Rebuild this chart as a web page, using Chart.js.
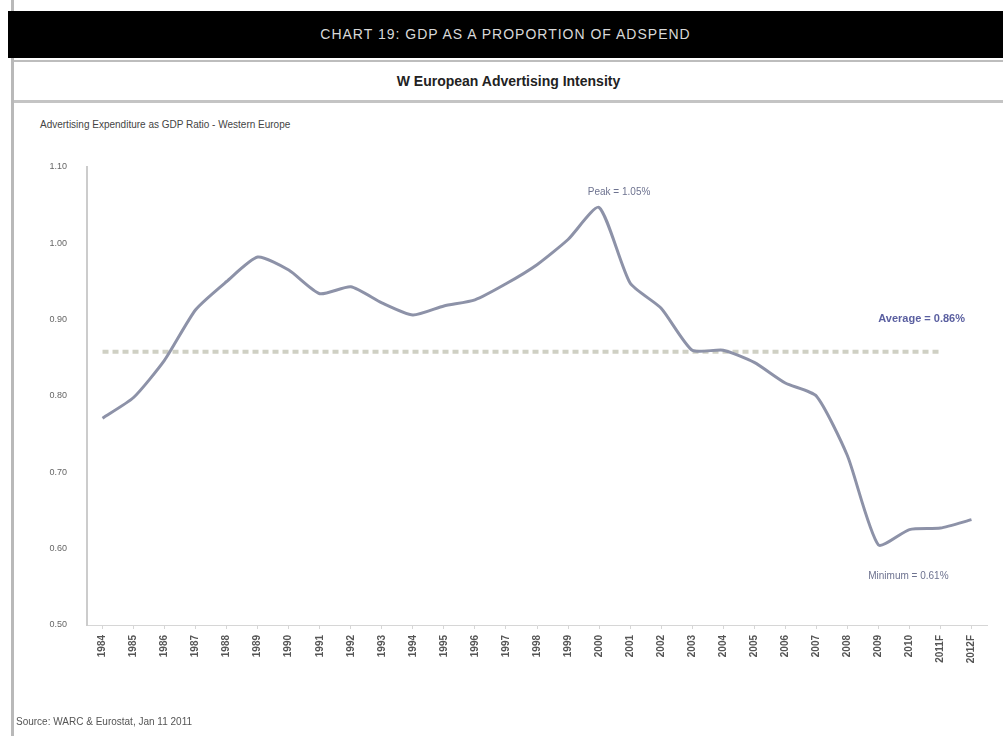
<!DOCTYPE html>
<html lang="en">
<head>
<meta charset="UTF-8">
<title>W European Advertising Intensity</title>
<script src="https://cdn.jsdelivr.net/npm/chart.js"></script>
<style>
    body { margin: 0; background: #fff; font-family: "Liberation Sans", Arial, sans-serif; }
    .moldura { position: relative; width: 1003px; height: 736px; overflow: hidden; }
    .borda-esq { position: absolute; left: 11px; top: 0; width: 3px; height: 736px; background: #b9b9b9; }
    .cabecalho { position: absolute; left: 8px; top: 11px; width: 995px; height: 47px; background: #000;
        color: #d8d8d8; font-size: 14px; letter-spacing: 1px; text-align: center; line-height: 47px; }
    .subtitulo { position: absolute; left: 14px; top: 60px; width: 989px; height: 38px; border-top: 2px solid #bdbdbd;
        border-bottom: 3px solid #c4c4c4; text-align: center; line-height: 38px; font-weight: bold; font-size: 14px; color: #222; }
    .eixo-titulo { position: absolute; left: 40px; top: 119px; font-size: 10px; color: #444; }
    .fonte { position: absolute; left: 16px; top: 716px; font-size: 10px; color: #555; }
    canvas { position: absolute; left: 0; top: 0; }
</style>
</head>
<body>
<div class="moldura">
    <div class="borda-esq"></div>
    <div class="cabecalho">CHART 19: GDP AS A PROPORTION OF ADSPEND</div>
    <div class="subtitulo">W European Advertising Intensity</div>
    <div class="eixo-titulo">Advertising Expenditure as GDP Ratio - Western Europe</div>
    <canvas id="grafico" width="1003" height="736"></canvas>
    <div class="fonte">Source: WARC &amp; Eurostat, Jan 11 2011</div>
</div>
<script>
// anos (categorias)
const anos = ['1984','1985','1986','1987','1988','1989','1990','1991','1992','1993','1994','1995','1996','1997',
    '1998','1999','2000','2001','2002','2003','2004','2005','2006','2007','2008','2009','2010','2011F','2012F'];

// adspend / PIB (%)
const intensidade = [0.771,0.798,0.847,0.913,0.950,0.982,0.965,0.934,0.943,0.922,0.906,0.918,0.926,0.947,
    0.972,1.005,1.047,0.948,0.915,0.860,0.860,0.844,0.817,0.800,0.722,0.605,0.625,0.627,0.638];

const ticksY = [0.50, 0.60, 0.70, 0.80, 0.90, 1.00, 1.10];

const media = 0.858;
const rotuloPico = 'Peak = 1.05%';
const rotuloMedia = 'Average = 0.86%';
const rotuloMinimo = 'Minimum = 0.61%';

// linha da media + textos
const pluginAnotacoes = {
    id: 'anotacoes',
    beforeDatasetsDraw(chart) {
        const ctx = chart.ctx;
        const x = chart.scales.x;
        const y = chart.scales.y;
        const yMedia = y.getPixelForValue(media);
        ctx.save();
        ctx.strokeStyle = '#cfd0c4';
        ctx.lineWidth = 4;
        ctx.setLineDash([6, 4]);
        ctx.beginPath();
        ctx.moveTo(x.getPixelForValue(0), yMedia);
        ctx.lineTo(x.getPixelForValue(anos.length - 2), yMedia);
        ctx.stroke();
        ctx.restore();
    },
    afterDatasetsDraw(chart) {
        const ctx = chart.ctx;
        const x = chart.scales.x;
        const y = chart.scales.y;
        const iPico = intensidade.indexOf(Math.max(...intensidade));
        const iMin = intensidade.indexOf(Math.min(...intensidade));
        ctx.save();
        ctx.font = '10px "Liberation Sans", Arial, sans-serif';
        ctx.fillStyle = '#6e7390';
        ctx.textAlign = 'center';
        ctx.fillText(rotuloPico, x.getPixelForValue(iPico) + 20, y.getPixelForValue(intensidade[iPico]) - 12);
        ctx.fillText(rotuloMinimo, x.getPixelForValue(iMin) + 30, y.getPixelForValue(intensidade[iMin]) + 34);
        ctx.font = 'bold 11px "Liberation Sans", Arial, sans-serif';
        ctx.fillStyle = '#5a5fa0';
        ctx.textAlign = 'right';
        ctx.fillText(rotuloMedia, x.right - 22, y.getPixelForValue(media) - 30);
        ctx.restore();
    }
};

new Chart(document.getElementById('grafico'), {
    type: 'line',
    data: {
        labels: anos,
        datasets: [{
            label: 'Adspend / GDP',
            data: intensidade,
            borderColor: '#8d92a8',
            borderWidth: 3,
            pointRadius: 0,
            tension: 0.2,
            fill: false
        }]
    },
    options: {
        responsive: false,
        animation: false,
        layout: { padding: { left: 20, top: 167, right: 16, bottom: 0 } },
        plugins: { legend: { display: false }, tooltip: { enabled: false } },
        scales: {
            x: {
                offset: true,
                afterFit(scale) { scale.height = 111; },
                grid: { display: true, drawOnChartArea: false, tickLength: 4, color: '#d6d6d6' },
                border: { display: true, color: '#d6d6d6' },
                ticks: {
                    minRotation: 90, maxRotation: 90, autoSkip: false, padding: 6,
                    color: '#555', font: { size: 10, weight: 'bold', family: '"Liberation Sans", Arial, sans-serif' }
                }
            },
            y: {
                min: 0.50,
                max: 1.10,
                afterFit(scale) { scale.width = 67; },
                afterBuildTicks(scale) { scale.ticks = ticksY.map(v => ({ value: v })); },
                grid: { display: false },
                border: { display: true, color: '#cccccc', width: 2 },
                ticks: {
                    padding: 12,
                    color: '#666',
                    font: { size: 9, family: '"Liberation Sans", Arial, sans-serif' },
                    callback: v => v.toFixed(2)
                }
            }
        }
    },
    plugins: [pluginAnotacoes]
});
</script>
</body>
</html>
